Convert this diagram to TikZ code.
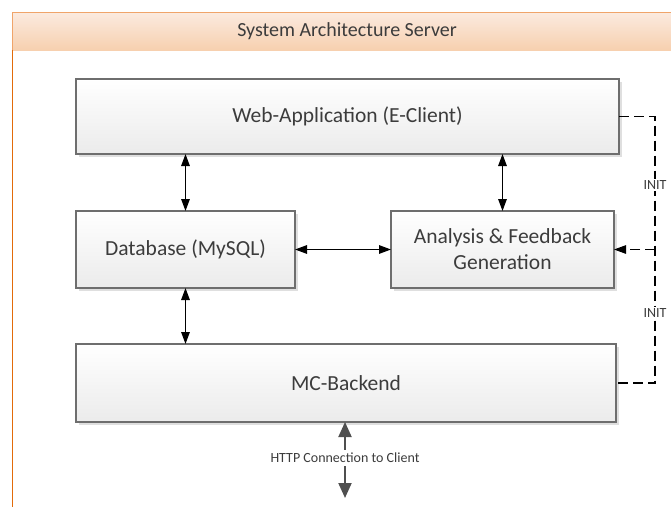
\documentclass[tikz,border=0pt]{standalone}
\usepackage{fontspec}
\setmainfont{Carlito}
\usetikzlibrary{arrows.meta,shadows}
\definecolor{txt}{HTML}{3C3C3C}
\definecolor{boxline}{HTML}{6E6E6E}
\definecolor{boxbot}{HTML}{EBEBEB}
\definecolor{hdtop}{HTML}{FBEADF}
\definecolor{hdbot}{HTML}{F7D0AF}
\definecolor{hdline}{HTML}{F0A46A}
\definecolor{frameline}{HTML}{E26B0A}
\definecolor{httpc}{HTML}{4F4F4F}
\begin{document}
\begin{tikzpicture}[x=1pt,y=-1pt,
  blk/.style={draw=boxline, line width=1.1pt, top color=white, bottom color=boxbot,
    drop shadow={shadow xshift=2.5pt, shadow yshift=-3pt, fill=black!25, opacity=0.5},
    font=\fontsize{21.5}{26}\selectfont, text=txt, align=center, inner sep=0pt, outer sep=0pt},
  arr/.style={line width=1.4pt, {Triangle[length=12pt,width=8.5pt]}-{Triangle[length=12pt,width=8.5pt]}},
  initline/.style={line width=1.1pt, dash pattern=on 10pt off 5pt},
  small/.style={font=\fontsize{14}{16}\selectfont, text=txt, fill=white, inner sep=1.5pt},
  http/.style={line width=2pt, draw=httpc, {Triangle[length=15pt,width=13pt]}-{Triangle[length=15pt,width=13pt]}}
]
\useasboundingbox (0,0) rectangle (671,506);
\clip (0,0) rectangle (671,506);
% outer frame and header
\shade[top color=hdtop, bottom color=hdbot] (12.5,12.5) rectangle (700,50);
\draw[hdline, line width=1.2pt] (12.5,50) -- (12.5,12.5) -- (700,12.5);
\draw[frameline, line width=1.5pt] (12.5,50) -- (12.5,520);
\node[font=\fontsize{20}{24}\selectfont, text=txt] (hd) at (347,31) {System Architecture Server};
% boxes
\node[blk, minimum width=543pt, minimum height=75pt] (web) at (347.5,116.5) {Web-Application (E-Client)};
\node[blk, minimum width=219pt, minimum height=77pt] (db) at (185.5,249.5) {Database (MySQL)};
\node[blk, minimum width=223pt, minimum height=77pt] (ana) at (502.5,249.5) {Analysis \& Feedback\\Generation};
\node[blk, minimum width=540pt, minimum height=78pt] (mc) at (346,383) {MC-Backend};
% connectors
\draw[arr] (web.south -| db.north) -- (db.north);
\draw[arr] (web.south -| ana.north) -- (ana.north);
\draw[arr] (db.east) -- (ana.west);
\draw[arr] (db.south) -- (mc.north -| db.south);
% INIT lines
\coordinate (rx) at (655,0);
\draw[initline] (web.east) -| (rx |- mc.east) -- (mc.east);
\draw[initline, -{Triangle[length=12pt,width=8.5pt]}] (rx |- ana.east) -- (ana.east);
\node[small] (i1) at (655,185) {INIT};
\node[small] (i2) at (655,313) {INIT};
% HTTP
\coordinate (cl) at (345,498);
\draw[http] (mc.south -| cl) -- (cl);
\node[small, inner sep=3pt] (hl) at (345,458) {HTTP Connection to Client};
\end{tikzpicture}
\end{document}
